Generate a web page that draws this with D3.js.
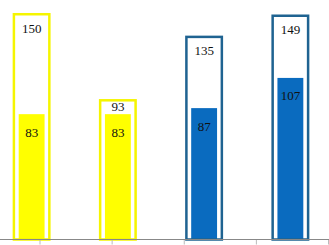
<!DOCTYPE html>
<html><head><meta charset="utf-8">
<script src="https://cdn.jsdelivr.net/npm/d3@7"></script>
<style>html,body{margin:0;padding:0;background:#fff;}svg{display:block;}</style>
</head><body>
<svg id="c" width="329" height="245"></svg>
<script>
const categories = ["A", "B", "C", "D"];
const totals = [150, 93, 135, 149];
const values = [83, 83, 87, 107];
const groups = ["yellow", "yellow", "blue", "blue"];
const tickKeys = ["t1", "t2", "t3", "t4", "t5"];

const outlineColor = {yellow: "#f5f500", blue: "#1f6391"};
const fillColor = {yellow: "#ffff00", blue: "#0a6bbf"};

const W = 329, H = 245, baseY = 239.5;
const svg = d3.select("#c");

const x = d3.scaleBand().domain(categories).range([-11.5, 333.5]).padding(0);
const y = d3.scaleLinear().domain([0, 158.6]).range([baseY, 0]);
const xt = d3.scalePoint().domain(tickKeys).range([39.5, 328]);

const step = x.bandwidth();
const ow = step * 0.44, fw = step * 0.30;

const g = svg.append("g");
categories.forEach((c, i) => {
  const cx = x(c) + step / 2;
  const top = y(totals[i]);
  const ftop = y(values[i]);
  g.append("rect")
    .attr("x", cx - fw / 2).attr("y", ftop)
    .attr("width", fw).attr("height", baseY - ftop)
    .attr("fill", fillColor[groups[i]]);
  g.append("rect")
    .attr("x", cx - ow / 2 + 1.25).attr("y", top + 1.25)
    .attr("width", ow - 2.5).attr("height", baseY - top - 1.25)
    .attr("fill", "none")
    .attr("stroke", outlineColor[groups[i]])
    .attr("stroke-width", 2.5);
  const ty = Math.min(top + 15, (top + ftop) / 2);
  g.append("text")
    .attr("x", cx).attr("y", ty).attr("dy", "0.35em")
    .attr("text-anchor", "middle")
    .attr("font-family", "Liberation Serif, serif").attr("font-size", 13)
    .attr("fill", "#111").text(totals[i]);
  g.append("text")
    .attr("x", cx).attr("y", ftop + 18).attr("dy", "0.35em")
    .attr("text-anchor", "middle")
    .attr("font-family", "Liberation Serif, serif").attr("font-size", 13)
    .attr("fill", "#111").text(values[i]);
});

const ax = svg.append("g").attr("transform", `translate(0,${baseY})`)
  .call(d3.axisBottom(xt).tickFormat("").tickSize(5).tickSizeOuter(0));
ax.select(".domain").remove();
ax.selectAll("line").attr("stroke", "#bbb");
svg.append("line").attr("x1", 0).attr("x2", W)
  .attr("y1", baseY).attr("y2", baseY)
  .attr("stroke", "#888").attr("stroke-width", 1);
</script>
</body></html>
